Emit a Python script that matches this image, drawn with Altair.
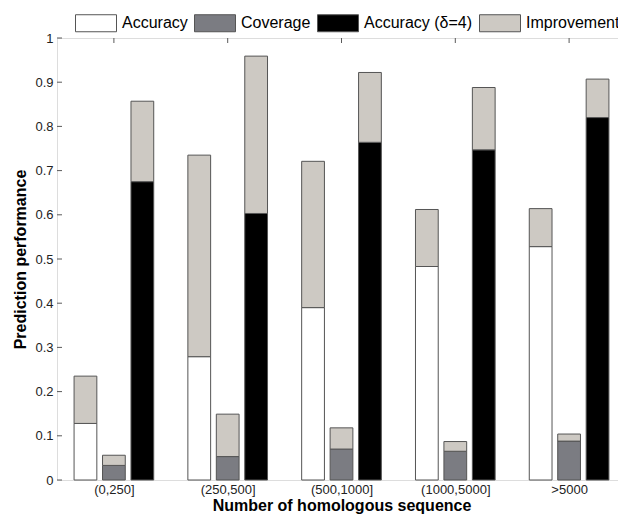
import altair as alt
import pandas as pd
import json

# ---- data ----
categories = ["(0,250]", "(250,500]", "(500,1000]", "(1000,5000]", ">5000"]
accuracy = [0.128, 0.279, 0.390, 0.483, 0.528]
accuracy_top = [0.235, 0.735, 0.721, 0.612, 0.614]
coverage = [0.033, 0.053, 0.070, 0.065, 0.088]
coverage_top = [0.056, 0.149, 0.118, 0.087, 0.104]
accuracy_d4 = [0.675, 0.603, 0.764, 0.747, 0.820]
accuracy_d4_top = [0.857, 0.959, 0.922, 0.888, 0.907]

series_names = ["Accuracy", "Coverage", "Accuracy (\u03b4=4)", "Improvement"]
series_colors = ["#ffffff", "#7b7c82", "#000000", "#cdc9c3"]
y_tick_values = [0, 0.1, 0.2, 0.3, 0.4, 0.5, 0.6, 0.7, 0.8, 0.9, 1.0]
group_index = [1, 2, 3, 4, 5]

# ---- layout constants ----
W, H = 569, 442
bar_offsets = [-0.25, 0.0, 0.25]
bar_half = 0.1

rows = []
bars_def = [
    (series_names[0], accuracy, accuracy_top),
    (series_names[1], coverage, coverage_top),
    (series_names[2], accuracy_d4, accuracy_d4_top),
]
for gi, g in enumerate(group_index):
    for (name, base, top), off in zip(bars_def, bar_offsets):
        xc = g + off
        rows.append({"x0": xc - bar_half, "x1": xc + bar_half, "y0": 0.0, "y1": base[gi], "series": name})
        rows.append({"x0": xc - bar_half, "x1": xc + bar_half, "y0": base[gi], "y1": top[gi], "series": series_names[3]})
df = pd.DataFrame(rows)

FONT = "Liberation Sans"
xs = alt.Scale(domain=[0.5, 5.5], nice=False, zero=False)
ys = alt.Scale(domain=[0, 1], nice=False, zero=False)

x_axis = alt.Axis(
    values=group_index,
    labelExpr=json.dumps(categories) + "[datum.value - 1]",
    title="Number of homologous sequence",
    domain=False, ticks=False, grid=False,
    labelFontSize=13, labelColor="#222222", labelPadding=3, labelFont=FONT,
    titleFontSize=16, titleFontWeight="bold", titleColor="#000000", titleFont=FONT,
    titleX=W / 2, titleY=17,
)
y_axis = alt.Axis(
    values=y_tick_values,
    labelExpr="format(datum.value, '.1~f')",
    title="Prediction performance",
    domain=False, ticks=False, grid=False,
    labelFontSize=13, labelColor="#222222", labelPadding=4, labelFont=FONT,
    titleFontSize=16, titleFontWeight="bold", titleColor="#000000", titleFont=FONT,
    titleX=-29, titleY=H / 2,
)

TICK_C = "#5a5a5a"
ytick_src = pd.DataFrame({"y0": y_tick_values})
xtick_src = pd.DataFrame({"x0": group_index})

ytick_left = alt.Chart(ytick_src).mark_rule(color=TICK_C, strokeWidth=1).encode(
    y=alt.Y("y0:Q", scale=ys, axis=y_axis), x=alt.value(0), x2=alt.value(5)
)
ytick_right = alt.Chart(ytick_src).mark_rule(color=TICK_C, strokeWidth=1).encode(
    y=alt.Y("y0:Q", scale=ys, axis=y_axis), x=alt.value(W - 5), x2=alt.value(W)
)
xtick_top = alt.Chart(xtick_src).mark_rule(color=TICK_C, strokeWidth=1).encode(
    x=alt.X("x0:Q", scale=xs, axis=x_axis), y=alt.value(0), y2=alt.value(5)
)
xtick_bottom = alt.Chart(xtick_src).mark_rule(color=TICK_C, strokeWidth=1).encode(
    x=alt.X("x0:Q", scale=xs, axis=x_axis), y=alt.value(H - 5), y2=alt.value(H)
)

bars = alt.Chart(df).mark_bar(stroke="#555555", strokeWidth=1, opacity=1).encode(
    x=alt.X("x0:Q", scale=xs, axis=x_axis),
    x2="x1:Q",
    y=alt.Y("y0:Q", scale=ys, axis=y_axis),
    y2="y1:Q",
    color=alt.Color(
        "series:N",
        scale=alt.Scale(domain=series_names, range=series_colors),
        legend=alt.Legend(
            title=None, orient="none", legendX=18, legendY=-36,
            direction="horizontal", columns=4, columnPadding=4,
            symbolType="M-1,-0.415H1V0.415H-1Z", symbolSize=1681,
            symbolStrokeColor="#555555", symbolStrokeWidth=1, symbolOpacity=1,
            labelFontSize=16, labelFont=FONT, labelColor="#000000", labelOffset=5,
            padding=0, labelLimit=300,
        ),
    ),
)

chart = (
    alt.layer(ytick_left, ytick_right, xtick_top, xtick_bottom, bars)
    .properties(
        width=W, height=H,
        padding={"left": 49, "top": 30, "right": -8, "bottom": 34},
        autosize=alt.AutoSizeParams(type="none"),
        background="#ffffff",
    )
    .configure_view(stroke="#5a5a5a", strokeWidth=1)
    .configure(font=FONT)
)

chart.save("out.html", embed_options={"renderer": "svg", "actions": False})
